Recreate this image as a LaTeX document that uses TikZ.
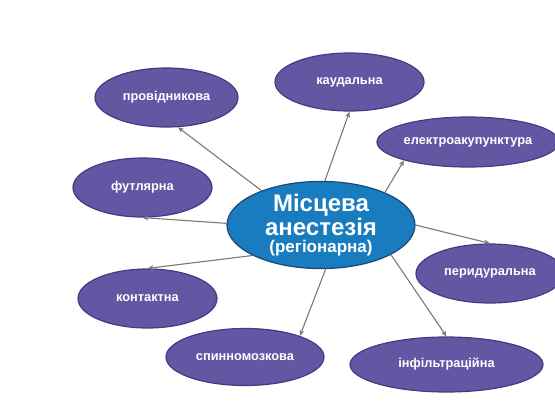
\documentclass[tikz,border=0pt]{standalone}
\usepackage{fontspec}
\setmainfont{Liberation Sans}
\usetikzlibrary{shapes.geometric,arrows.meta}
\definecolor{leaf}{RGB}{101,86,163}
\definecolor{leafedge}{RGB}{60,62,130}
\definecolor{hub}{RGB}{24,124,190}
\definecolor{hubedge}{RGB}{28,72,120}
\definecolor{link}{RGB}{120,120,120}
\tikzset{
  leafnode/.style={ellipse,draw=leafedge,line width=1.2pt,fill=leaf,inner sep=0pt,
    text=white,font=\bfseries\fontsize{12.8}{14}\selectfont},
  hubnode/.style={ellipse,draw=hubedge,line width=1.2pt,fill=hub,inner sep=0pt,
    text=white,align=center},
  linkline/.style={draw=link,line width=1.1pt,-{Stealth[length=6pt,width=5pt,open]}},
}
\begin{document}
\begin{tikzpicture}[x=1pt,y=-1pt]
\useasboundingbox (0,0) rectangle (555,400);
\clip (0,0) rectangle (555,400);
\node[hubnode,minimum width=188pt,minimum height=86pt] (c) at (321,225)
  {\bfseries\fontsize{24}{21}\selectfont Місцева\\[1pt]
   \bfseries\fontsize{24}{21}\selectfont анестезія\\[3pt]
   \bfseries\fontsize{17}{20}\selectfont (регіонарна)};
\node[leafnode,minimum width=143pt,minimum height=59pt] (p) at (166.5,97.5) {провідникова};
\node[leafnode,minimum width=149pt,minimum height=58pt] (k) at (349.5,82) {каудальна};
\node[leafnode,minimum width=182pt,minimum height=50pt] (e) at (468,142) {електроакупунктура};
\node[leafnode,minimum width=139pt,minimum height=59pt] (f) at (142.5,187.5) {футлярна};
\node[leafnode,minimum width=148pt,minimum height=59pt] (pe) at (490,273.5) {перидуральна};
\node[leafnode,minimum width=139pt,minimum height=59pt] (ko) at (147.5,298.5) {контактна};
\node[leafnode,minimum width=158pt,minimum height=57pt] (s) at (245,357) {спинномозкова};
\node[leafnode,minimum width=193pt,minimum height=55pt] (i) at (446.5,364.5) {інфільтраційна};
\draw[linkline] (c.150) -- (p.291);
\draw[linkline] (c.179) -- (f.south);
\draw[linkline] (c.85) -- (k.south);
\draw[linkline] (c.27) -- (e.196);
\draw[linkline] (c.0) -- (pe.north);
\draw[linkline] (c.204) -- (ko.north);
\draw[linkline] (c.276) -- (s.21);
\draw[linkline] (c.-23) -- (i.north);
\end{tikzpicture}
\end{document}
